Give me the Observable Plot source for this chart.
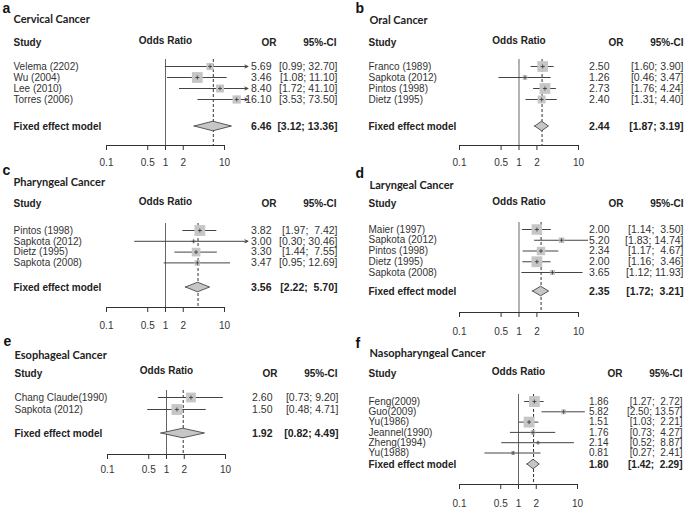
<!DOCTYPE html>
<html>
<head>
<meta charset="utf-8">
<script src="https://cdn.jsdelivr.net/npm/d3@7"></script>
<script src="https://cdn.jsdelivr.net/npm/@observablehq/plot@0.6"></script>
<style>
  html, body { margin: 0; padding: 0; background: #fff; }
  #chart { position: relative; width: 685px; height: 521px; background: #fff; overflow: hidden; }
  #chart svg { position: absolute; overflow: visible; }
</style>
</head>
<body>
<div id="chart"></div>
<script>
// ---------- data ----------
const panelLetters = ["a", "b", "c", "d", "e", "f"];
const panelTitles = ["Cervical Cancer", "Oral Cancer", "Pharyngeal Cancer", "Laryngeal Cancer", "Esophageal Cancer", "Nasopharyngeal Cancer"];
const studies = [
  ["Velema (2202)", "Wu (2004)", "Lee (2010)", "Torres (2006)"],
  ["Franco (1989)", "Sapkota (2012)", "Pintos (1998)", "Dietz (1995)"],
  ["Pintos (1998)", "Sapkota (2012)", "Dietz (1995)", "Sapkota (2008)"],
  ["Maier (1997)", "Sapkota (2012)", "Pintos (1998)", "Dietz (1995)", "Sapkota (2008)"],
  ["Chang Claude(1990)", "Sapkota (2012)"],
  ["Feng(2009)", "Guo(2009)", "Yu(1986)", "Jeannel(1990)", "Zheng(1994)", "Yu(1988)"]
];
const oddsRatio = [
  [5.69, 3.46, 8.40, 16.10],
  [2.50, 1.26, 2.73, 2.40],
  [3.82, 3.00, 3.30, 3.47],
  [2.00, 5.20, 2.34, 2.00, 3.65],
  [2.60, 1.50],
  [1.86, 5.82, 1.51, 1.76, 2.14, 0.81]
];
const ciLower = [
  [0.99, 1.08, 1.72, 3.53],
  [1.60, 0.46, 1.76, 1.31],
  [1.97, 0.30, 1.44, 0.95],
  [1.14, 1.83, 1.17, 1.16, 1.12],
  [0.73, 0.48],
  [1.27, 2.50, 1.03, 0.73, 0.52, 0.27]
];
const ciUpper = [
  [32.70, 11.10, 41.10, 73.50],
  [3.90, 3.47, 4.24, 4.40],
  [7.42, 30.46, 7.55, 12.69],
  [3.50, 14.74, 4.67, 3.46, 11.93],
  [9.20, 4.71],
  [2.72, 13.57, 2.21, 4.27, 8.87, 2.41]
];
const weights = [
  [17, 39, 21, 23],
  [36, 7, 37, 20],
  [50, 4, 32, 13],
  [31, 9, 20, 33, 7],
  [45, 55],
  [39, 8, 39, 7, 3, 5]
];
const fixedOR = [6.46, 2.44, 3.56, 2.35, 1.92, 1.80];
const fixedLower = [3.12, 1.87, 2.22, 1.72, 0.82, 1.42];
const fixedUpper = [13.36, 3.19, 5.70, 3.21, 4.49, 2.29];
const axisTicks = [0.1, 0.5, 1, 2, 10];
const xUpper = 25; // plotting limit: CIs beyond it end in an arrow

// ---------- layout (page pixels) ----------
const colsLeft = {letter: -104, title: -93, study: -93, or: 47, ci: 113, orHead: 52, ciHead: 112};
const colsRight = {letter: -104, title: -90, study: -91, or: 31, ci: 105, orHead: 45, ciHead: 105};
const layout = [
  {left: 0,   top: 0,   width: 340, height: 172, ml: 106, mr: 116, letter: 8.5, title: 19,  header: 42,  row0: 66,  step: 11,    fixed: 126, axis: 145, pad: 8,  num: 10.5, cols: colsLeft},
  {left: 340, top: 0,   width: 345, height: 172, ml: 119, mr: 107, letter: 8.5, title: 20,  header: 42,  row0: 66,  step: 11,    fixed: 126, axis: 145, pad: 8,  num: 10.5, cols: colsRight},
  {left: 0,   top: 160, width: 340, height: 180, ml: 106, mr: 116, letter: 170, title: 182, header: 203, row0: 230, step: 10.8,  fixed: 287, axis: 307, pad: 9,  num: 10.5, cols: colsLeft},
  {left: 340, top: 160, width: 345, height: 185, ml: 119, mr: 107, letter: 173, title: 185, header: 203, row0: 229, step: 10.75, fixed: 291, axis: 312, pad: 10, num: 10.5, cols: colsRight},
  {left: 0,   top: 333, width: 340, height: 188, ml: 107, mr: 115, letter: 341, title: 355, header: 373, row0: 397, step: 12,    fixed: 433, axis: 454, pad: 6,  num: 10.5, cols: colsLeft},
  {left: 340, top: 333, width: 345, height: 188, ml: 119, mr: 108, letter: 343, title: 353, header: 373, row0: 401, step: 10.3,  fixed: 464, axis: 484, pad: 10, num: 10,   cols: colsRight}
];

const fmt = v => v.toFixed(2);
const FONT = "'Liberation Sans', Arial, Helvetica, sans-serif";
const chart = document.getElementById("chart");

function drawPanel(k) {
  const L = layout[k];
  const C = L.cols;
  const toRow = py => (py - L.row0) / L.step;
  const lows = ciLower[k].concat([fixedLower[k]]).map(fmt);
  const highs = ciUpper[k].concat([fixedUpper[k]]).map(fmt);
  const wl = d3.max(lows, s => s.length), wh = d3.max(highs, s => s.length);
  const ci = (lo, hi) => "[" + fmt(lo).padStart(wl) + "; " + fmt(hi).padStart(wh) + "]";

  const rows = studies[k].map((s, i) => ({
    i, study: s, or: oddsRatio[k][i], lo: ciLower[k][i], hi: ciUpper[k][i], w: weights[k][i]
  }));
  const plain = rows.filter(d => d.hi <= xUpper);
  const arrows = rows.filter(d => d.hi > xUpper);
  const fRow = toRow(L.fixed);
  const hRow = toRow(L.header);
  const aRow = toRow(L.axis);
  const half = 4.8 / L.step;
  const diamond = [
    {x: fixedLower[k], y1: fRow, y2: fRow},
    {x: fixedOR[k], y1: fRow - half, y2: fRow + half},
    {x: fixedUpper[k], y1: fRow, y2: fRow}
  ];
  const one = [0];
  const numSize = L.num;
  const labSize = Math.min(10, L.num);

  const svg = Plot.plot({
    width: L.width,
    height: L.height,
    marginLeft: L.ml,
    marginRight: L.mr,
    marginTop: L.row0 - 7 - L.top,
    marginBottom: L.top + L.height - L.axis,
    style: {fontFamily: FONT, fontSize: "10px", color: "#222", background: "transparent", overflow: "visible"},
    x: {type: "log", domain: [axisTicks[0], axisTicks[axisTicks.length - 1]], axis: null},
    y: {domain: [0, 1], range: [L.row0 - L.top, L.row0 + L.step - L.top], axis: null},
    r: {type: "sqrt", domain: [0, d3.max(weights[k])], range: [0, 6.1]},
    marks: [
      Plot.ruleX([1], {stroke: "#666", strokeWidth: 1}),
      Plot.ruleX([fixedOR[k]], {stroke: "#333", strokeWidth: 1, strokeDasharray: "3,2"}),
      Plot.ruleY(plain, {y: "i", x1: "lo", x2: "hi", stroke: "#444", strokeWidth: 1}),
      Plot.arrow(arrows, {x1: "lo", x2: () => xUpper, y1: "i", y2: "i", stroke: "#444", strokeWidth: 1, headLength: 5, headAngle: 50}),
      Plot.dot(rows, {x: "or", y: "i", r: "w", symbol: "square", fill: "#c6c6c6", stroke: null}),
      Plot.dot(rows, {x: "or", y: "i", symbol: "plus", r: 1.4, stroke: "#333", strokeWidth: 0.8}),
      Plot.areaY(diamond, {x: "x", y1: "y1", y2: "y2", fill: "#c6c6c6", stroke: "#333", strokeWidth: 0.8}),
      Plot.ruleY([aRow], {x1: () => axisTicks[0], x2: () => axisTicks[axisTicks.length - 1], stroke: "#333"}),
      Plot.axisX({ticks: axisTicks, tickFormat: d => String(d), tickSize: 5, tickPadding: L.pad, label: null, anchor: "bottom", stroke: "#333", fill: "#333", fontSize: 10}),
      // panel letter and title
      Plot.text(one, {text: () => panelLetters[k], frameAnchor: "left", dx: C.letter, y: () => toRow(L.letter), textAnchor: "start", fontSize: 14, fontWeight: "bold", fill: "#111"}),
      Plot.text(one, {text: () => panelTitles[k], frameAnchor: "left", dx: C.title, y: () => toRow(L.title), textAnchor: "start", fontSize: 11, fontWeight: "bold", fill: "#222", fontFamily: "Lato, " + FONT}),
      // header
      Plot.text(one, {text: () => "Study", frameAnchor: "left", dx: C.study, y: () => hRow, textAnchor: "start", fontWeight: "bold"}),
      Plot.text(one, {text: () => "Odds Ratio", x: () => 1, y: () => hRow - 0.2, textAnchor: "middle", fontWeight: "bold"}),
      Plot.text(one, {text: () => "OR", frameAnchor: "right", dx: C.orHead, y: () => hRow, textAnchor: "end", fontWeight: "bold"}),
      Plot.text(one, {text: () => "95%-CI", frameAnchor: "right", dx: C.ciHead, y: () => hRow, textAnchor: "end", fontWeight: "bold"}),
      // study rows
      Plot.text(rows, {text: "study", frameAnchor: "left", dx: C.study, y: "i", textAnchor: "start", fill: "#333", fontSize: labSize}),
      Plot.text(rows, {text: d => fmt(d.or), frameAnchor: "right", dx: C.or, y: "i", textAnchor: "end", fill: "#333", fontSize: numSize}),
      Plot.text(rows, {text: d => ci(d.lo, d.hi), frameAnchor: "right", dx: C.ci, y: "i", textAnchor: "end", fill: "#333", fontSize: numSize}),
      // fixed effect row
      Plot.text(one, {text: () => "Fixed effect model", frameAnchor: "left", dx: C.study, y: () => fRow, textAnchor: "start", fontWeight: "bold"}),
      Plot.text(one, {text: () => fmt(fixedOR[k]), frameAnchor: "right", dx: C.or, y: () => fRow, textAnchor: "end", fontWeight: "bold", fontSize: numSize}),
      Plot.text(one, {text: () => ci(fixedLower[k], fixedUpper[k]), frameAnchor: "right", dx: C.ci, y: () => fRow, textAnchor: "end", fontWeight: "bold", fontSize: numSize})
    ]
  });
  svg.style.left = L.left + "px";
  svg.style.top = L.top + "px";
  chart.appendChild(svg);
}

for (let k = 0; k < 6; k++) drawPanel(k);
</script>
</body>
</html>
